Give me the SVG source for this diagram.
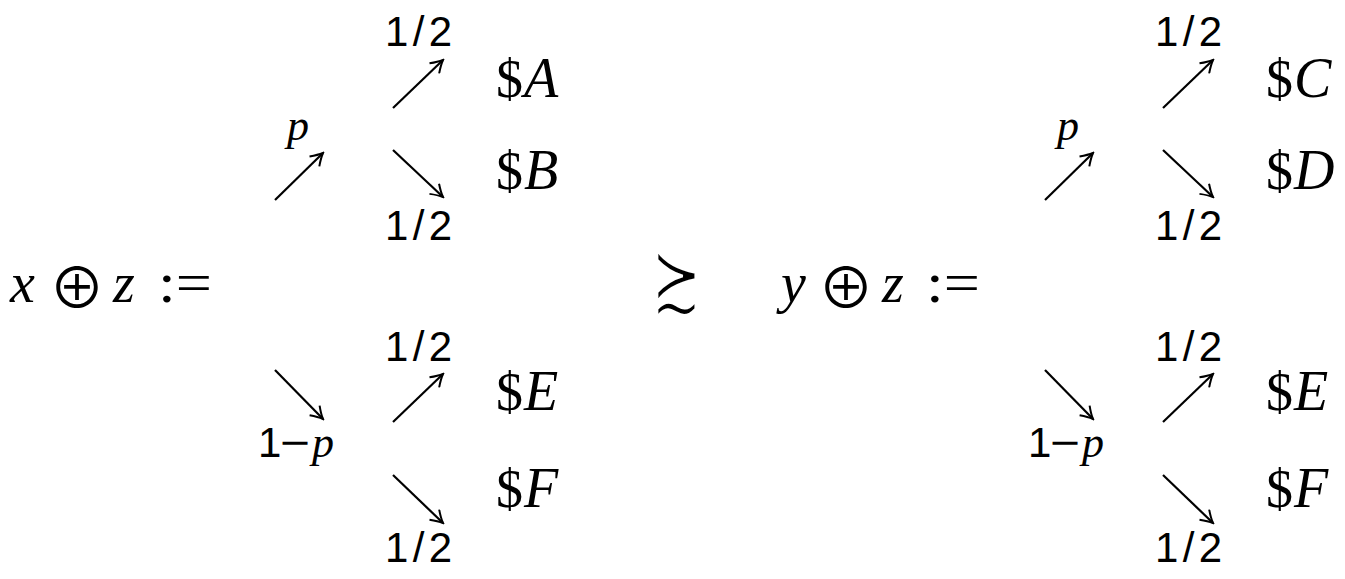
<svg xmlns="http://www.w3.org/2000/svg" width="1345" height="579" viewBox="0 0 1345 579">
<style>
.mi{font-family:"Liberation Serif",serif;font-style:italic;font-size:56px;fill:#000}
.rm{font-family:"Liberation Serif",serif;font-size:54px;fill:#000}
.eq{font-family:"Liberation Serif",serif;font-size:58px;fill:#000}
.sym{font-family:"Noto Sans CJK JP","DejaVu Sans",sans-serif;font-size:56px;fill:#000}
.rel{font-family:"DejaVu Serif",serif;font-size:66px;fill:#000;stroke:#fff;stroke-width:2}
.fr{font-family:"Liberation Sans",sans-serif;font-size:42px;fill:#000}
.pl{font-family:"Liberation Serif",serif;font-style:italic;font-size:44px;fill:#000}
.ar{stroke:#000;stroke-width:2.2;fill:none;marker-end:url(#hk)}
</style>
<defs>
<marker id="hk" viewBox="-14 -8 16 16" markerWidth="16" markerHeight="16" refX="0" refY="0" orient="auto" markerUnits="userSpaceOnUse">
<path d="M-12,-7 Q-5,-2 0,0 Q-5,2 -12,7" stroke="#000" stroke-width="2" fill="none"/>
</marker>
</defs>
<g id="lhs1">
<text class="mi" x="10" y="302">x</text>
<text class="sym" x="49" y="308">⊕</text>
<text class="mi" x="113" y="302">z</text>
<text class="eq" x="158" y="302" textLength="54" lengthAdjust="spacingAndGlyphs">:=</text>
</g>
<g id="rel"><text class="rel" transform="translate(651,309) scale(0.92,1.32)">≿</text></g>
<g id="lhs2">
<text class="mi" x="781" y="302">y</text>
<text class="sym" x="818" y="308">⊕</text>
<text class="mi" x="882" y="302">z</text>
<text class="eq" x="926" y="302" textLength="54" lengthAdjust="spacingAndGlyphs">:=</text>
</g>
<g id="tree1">
<text class="pl" x="287" y="140">p</text>
<text class="fr" x="385" y="46" textLength="67">1/2</text>
<text class="rm" x="496" y="97">$</text><text class="mi" x="524" y="97">A</text>
<text class="rm" x="496" y="189">$</text><text class="mi" x="524" y="189">B</text>
<text class="fr" x="385" y="240" textLength="67">1/2</text>
<text class="fr" x="258" y="457">1</text><text class="fr" x="280" y="457" textLength="30" lengthAdjust="spacingAndGlyphs">−</text><text class="pl" x="312" y="457">p</text>
<text class="fr" x="385" y="361" textLength="67">1/2</text>
<text class="rm" x="496" y="410">$</text><text class="mi" x="524" y="410">E</text>
<text class="rm" x="496" y="507">$</text><text class="mi" x="524" y="507">F</text>
<text class="fr" x="385" y="562" textLength="67">1/2</text>
</g>
<g id="tree2">
<text class="pl" x="1057" y="140">p</text>
<text class="fr" x="1155" y="46" textLength="67">1/2</text>
<text class="rm" x="1266" y="97">$</text><text class="mi" x="1294" y="97">C</text>
<text class="rm" x="1266" y="189">$</text><text class="mi" x="1294" y="189">D</text>
<text class="fr" x="1155" y="240" textLength="67">1/2</text>
<text class="fr" x="1028" y="457">1</text><text class="fr" x="1050" y="457" textLength="30" lengthAdjust="spacingAndGlyphs">−</text><text class="pl" x="1082" y="457">p</text>
<text class="fr" x="1155" y="361" textLength="67">1/2</text>
<text class="rm" x="1266" y="410">$</text><text class="mi" x="1294" y="410">E</text>
<text class="rm" x="1266" y="507">$</text><text class="mi" x="1294" y="507">F</text>
<text class="fr" x="1155" y="562" textLength="67">1/2</text>
</g>
<g id="connectors">
<line class="ar" x1="275" y1="200" x2="323" y2="153"/>
<line class="ar" x1="393" y1="108" x2="443" y2="60"/>
<line class="ar" x1="393" y1="150" x2="443" y2="197"/>
<line class="ar" x1="275" y1="370" x2="323" y2="419"/>
<line class="ar" x1="393" y1="422" x2="443" y2="374"/>
<line class="ar" x1="393" y1="475" x2="443" y2="523"/>
<line class="ar" x1="1045" y1="200" x2="1093" y2="153"/>
<line class="ar" x1="1163" y1="108" x2="1213" y2="60"/>
<line class="ar" x1="1163" y1="150" x2="1213" y2="197"/>
<line class="ar" x1="1045" y1="370" x2="1093" y2="419"/>
<line class="ar" x1="1163" y1="422" x2="1213" y2="374"/>
<line class="ar" x1="1163" y1="475" x2="1213" y2="523"/>
</g>
</svg>
